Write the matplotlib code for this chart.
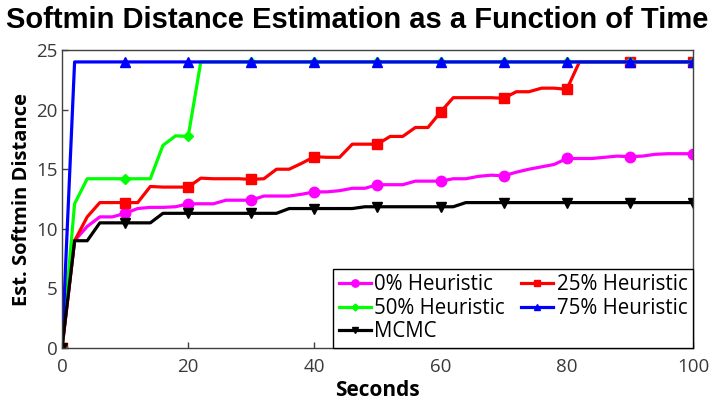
import matplotlib
matplotlib.use("Agg")
import matplotlib.pyplot as plt

plt.rcParams['font.family'] = ['Open Sans', 'DejaVu Sans']

t = [0, 2, 4, 6, 8, 10, 12, 14, 16, 18, 20, 22, 24, 26, 28, 30, 32, 34, 36, 38, 40, 42, 44, 46, 48, 50,
     52, 54, 56, 58, 60, 62, 64, 66, 68, 70, 72, 74, 76, 78, 80, 82, 84, 86, 88, 90, 92, 94, 96, 98, 100]

h0 = [0, 9.0, 10.2, 11.0, 11.0, 11.3, 11.7, 11.8, 11.8, 11.85, 12.1, 12.1, 12.1, 12.4, 12.4, 12.4,
      12.75, 12.75, 12.75, 12.9, 13.1, 13.1, 13.2, 13.4, 13.4, 13.7, 13.7, 13.7, 14.0, 14.0, 14.0,
      14.2, 14.2, 14.4, 14.5, 14.45, 14.75, 15.0, 15.2, 15.4, 15.9, 15.9, 15.9, 16.0, 16.1, 16.05,
      16.1, 16.25, 16.3, 16.3, 16.3]
h25 = [0, 9.0, 11.0, 12.2, 12.2, 12.2, 12.2, 13.55, 13.5, 13.5, 13.5, 14.25, 14.2, 14.2, 14.2, 14.15,
       14.2, 15.0, 15.0, 15.5, 16.05, 16.0, 16.0, 17.1, 17.1, 17.1, 17.75, 17.75, 18.5, 18.5, 19.8,
       21.0, 21.0, 21.0, 21.0, 20.95, 21.5, 21.5, 21.8, 21.8, 21.7, 24, 24, 24, 24, 24,
       24, 24, 24, 24, 24]
h50 = [0, 12.1, 14.2, 14.2, 14.2, 14.2, 14.2, 14.2, 17.0, 17.8, 17.75, 24, 24, 24, 24, 24,
       24, 24, 24, 24, 24, 24, 24, 24, 24, 24, 24, 24, 24, 24, 24,
       24, 24, 24, 24, 24, 24, 24, 24, 24, 24, 24, 24, 24, 24, 24,
       24, 24, 24, 24, 24]
h75 = [0, 24, 24, 24, 24, 24, 24, 24, 24, 24, 24, 24, 24, 24, 24, 24,
       24, 24, 24, 24, 24, 24, 24, 24, 24, 24, 24, 24, 24, 24, 24,
       24, 24, 24, 24, 24, 24, 24, 24, 24, 24, 24, 24, 24, 24, 24,
       24, 24, 24, 24, 24]
mcmc = [0, 9.0, 9.0, 10.5, 10.5, 10.5, 10.5, 10.5, 11.3, 11.3, 11.3, 11.3, 11.3, 11.3, 11.3, 11.3,
        11.3, 11.3, 11.7, 11.7, 11.7, 11.7, 11.7, 11.7, 11.85, 11.85, 11.85, 11.85, 11.85, 11.85, 11.85,
        11.85, 12.2, 12.2, 12.2, 12.2, 12.2, 12.2, 12.2, 12.2, 12.2, 12.2, 12.2, 12.2, 12.2, 12.2,
        12.2, 12.2, 12.2, 12.2, 12.2]

labels = ["0% Heuristic", "25% Heuristic", "50% Heuristic", "75% Heuristic", "MCMC"]
xticks = [0, 20, 40, 60, 80, 100]
yticks = [0, 5, 10, 15, 20, 25]

fig = plt.figure(figsize=(7.14, 4.04), dpi=100)
ax = fig.add_axes([0.0868, 0.1386, 0.8838, 0.7376])

lw = 2.3
mev = 5
ax.plot(t, h0, color="#ff00ff", lw=lw, marker="o", ms=7.5, markevery=mev, label=labels[0])
ax.plot(t, h25, color="#ff0000", lw=lw, marker="s", ms=7, markevery=mev, label=labels[1])
ax.plot(t, h50, color="#00ff00", lw=lw, marker="D", ms=5, markevery=mev, label=labels[2])
ax.plot(t, h75, color="#0000ff", lw=lw, marker="^", ms=7, markevery=mev, label=labels[3])
ax.plot(t, mcmc, color="#000000", lw=lw, marker="v", ms=7, markevery=mev, label=labels[4])

ax.set_xlim(0, 100)
ax.set_ylim(0, 25)
ax.set_xticks(xticks)
ax.set_yticks(yticks)
ax.tick_params(direction="in", length=4, width=1, colors="#404040", labelsize=13.5,
               labelcolor="#3a3a3a", top=False, right=False, pad=3)
ax.tick_params(axis="x", pad=7)
for s in ax.spines.values():
    s.set_color("#404040")
    s.set_linewidth(1)

ax.set_xlabel("Seconds", fontsize=15, fontweight="bold", labelpad=3)
ax.set_ylabel("Est. Softmin Distance", fontsize=14.5, fontweight="bold", labelpad=3)
fig.suptitle("Softmin Distance Estimation as a Function of Time", x=0.5, y=0.985,
             fontsize=21, fontweight="bold", family="Liberation Sans")

handles, labs = ax.get_legend_handles_labels()
order = [0, 2, 4, 1, 3]
leg = ax.legend([handles[i] for i in order], [labs[i] for i in order], ncol=2,
                loc="lower right", bbox_to_anchor=(1.0, 0.0), fontsize=14.8,
                frameon=True, fancybox=False, edgecolor="black", framealpha=1,
                handlelength=1.6, handletextpad=0.15, columnspacing=0.75,
                labelspacing=0.12, borderpad=0.28, borderaxespad=0.0, markerscale=0.7)
leg.get_frame().set_linewidth(1.0)

fig.savefig("out.png", dpi=100)
